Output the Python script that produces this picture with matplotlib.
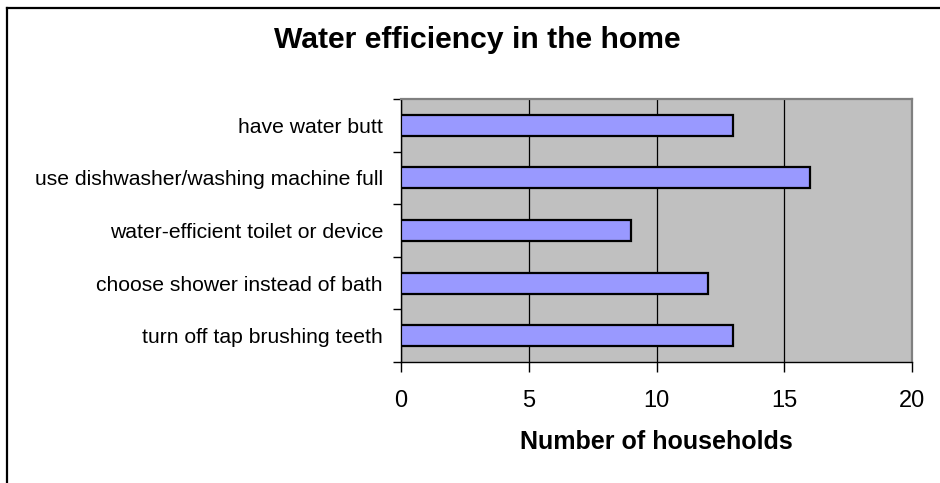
import numpy as np
import matplotlib.pyplot as plt
from matplotlib.lines import Line2D

plt.rcParams['font.family'] = ['Liberation Sans', 'DejaVu Sans']

# categories listed top to bottom as in the chart
categories = ['have water butt',
              'use dishwasher/washing machine full',
              'water-efficient toilet or device',
              'choose shower instead of bath',
              'turn off tap brushing teeth']
households = [13, 16, 9, 12, 13]
xticks = [0, 5, 10, 15, 20]

W, H = 940, 483
fig = plt.figure(figsize=(W / 100, H / 100), dpi=100)

# plot area in pixels
left, right, top, bottom = 401, 912, 99, 362
ax = fig.add_axes([left / W, 1 - bottom / H, (right - left) / W, (bottom - top) / H])
ax.set_facecolor('#C0C0C0')

y = np.arange(len(categories))
ax.barh(y, households, height=0.4, color='#9999FF', edgecolor='black', linewidth=1.6, zorder=3)

ax.set_xlim(0, 20)
ax.set_ylim(len(categories) - 0.5, -0.5)
ax.set_xticks(xticks)
ax.set_xticklabels([str(t) for t in xticks], fontsize=17)
ax.tick_params(axis='x', direction='out', length=7, width=1, pad=13)
ax.grid(axis='x', color='black', linewidth=0.9, zorder=1)

# category ticks between bars, labels at bar centers
ax.set_yticks(np.arange(len(categories) + 1) - 0.5)
ax.set_yticklabels([])
ax.tick_params(axis='y', which='major', direction='out', length=6, width=1)
ax.set_yticks(y, minor=True)
ax.set_yticklabels(categories, minor=True, fontsize=15.2)
ax.tick_params(axis='y', which='minor', length=0, pad=13)

ax.set_xlabel('Number of households', fontsize=18, fontweight='bold', labelpad=13)

for s in ['top', 'right']:
    ax.spines[s].set_color('#808080')
    ax.spines[s].set_linewidth(1.6)
for s in ['left', 'bottom']:
    ax.spines[s].set_color('black')
    ax.spines[s].set_linewidth(1)

fig.text(477 / W, 1 - 40 / H, 'Water efficiency in the home', fontsize=21.7,
         fontweight='bold', ha='center', va='center')

# chart border (only left and top edges are inside the image)
fig.add_artist(Line2D([7.5 / W, 7.5 / W], [0, 1 - 7.5 / H], color='black', linewidth=1.6,
                      transform=fig.transFigure))
fig.add_artist(Line2D([7.5 / W, 1], [1 - 7.5 / H, 1 - 7.5 / H], color='black', linewidth=1.6,
                      transform=fig.transFigure))

fig.savefig('out.png', dpi=100)
